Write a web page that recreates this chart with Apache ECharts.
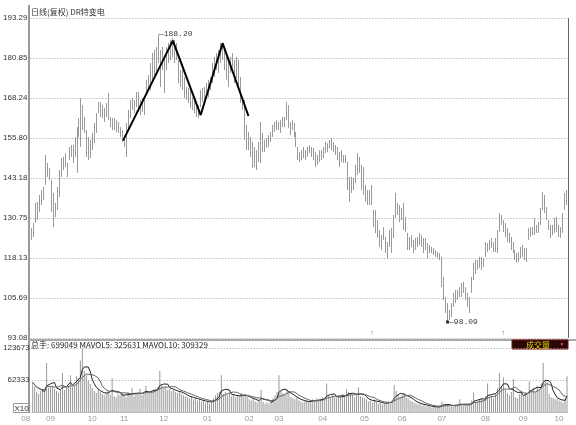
<!DOCTYPE html>
<html>
<head>
<meta charset="utf-8">
<script src="https://cdn.jsdelivr.net/npm/echarts@6/dist/echarts.min.js"></script>
<style>
  html, body { margin: 0; padding: 0; background: #fff; }
  #main { width: 576px; height: 425px; }
</style>
</head>
<body>
<div id="main"></div>
<script>
// daily high / low (price bars)
const dayHigh = [
  127.5,129.1,135.4,135.7,137.9,139.4,140.4,150.4,147.9,146.3,
  142.6,138.5,135.4,140.4,145.7,149.4,149.8,151.0,147.9,152.9,
  153.5,153.5,156.0,159.1,161.9,168.2,166.0,162.3,158.2,156.0,
  155.1,157.3,160.4,163.5,167.0,167.0,166.0,165.1,166.7,169.8,
  162.3,161.9,161.9,161.3,160.7,159.1,158.2,156.6,160.4,164.5,
  167.6,168.2,167.6,170.1,170.1,167.6,168.2,167.6,173.9,175.4,
  179.2,182.3,183.3,184.2,188.2,183.3,184.2,181.1,184.2,185.5,
  186.4,187.0,186.4,185.5,180.1,177.0,177.0,174.8,171.7,171.4,
  170.7,168.5,167.6,166.7,166.0,170.7,171.4,171.7,172.9,173.9,
  174.8,179.2,181.1,182.3,183.3,185.5,185.5,183.3,182.3,181.1,
  181.1,182.3,180.1,181.1,180.1,174.8,168.5,167.6,159.8,157.6,
  156.0,154.5,152.9,151.9,154.5,160.7,157.3,155.1,155.7,156.6,
  157.6,159.8,160.7,161.3,160.7,161.3,162.3,162.3,167.0,166.0,
  160.7,161.3,160.4,157.6,152.9,151.3,151.9,152.9,151.9,152.9,
  153.5,152.9,152.6,151.3,150.4,151.9,151.9,152.9,154.5,154.1,
  155.1,155.7,154.5,153.5,152.9,151.3,151.9,150.4,150.4,148.2,
  143.5,143.5,143.2,147.3,151.0,149.8,147.3,146.6,141.0,139.4,
  139.4,141.0,133.2,133.2,130.0,126.9,125.3,127.8,124.7,123.1,
  126.9,127.5,131.6,138.5,135.4,134.7,133.8,135.4,131.0,126.0,
  124.7,125.3,123.8,124.4,124.7,126.0,125.3,124.4,124.4,122.8,
  122.2,121.6,121.3,120.6,120.0,119.7,118.5,112.2,105.9,104.0,
  101.8,104.0,107.2,108.1,108.1,109.0,110.3,110.6,109.0,107.2,
  105.9,112.2,116.6,117.5,117.5,118.5,118.5,118.1,123.1,122.8,
  123.8,124.4,123.1,124.4,126.9,132.2,131.6,130.0,129.1,127.5,
  126.0,124.7,123.1,120.6,119.7,120.0,121.6,122.2,121.3,121.3,
  127.5,127.8,127.8,130.7,128.5,129.4,133.8,138.8,137.9,134.1,
  130.0,128.5,128.5,130.7,131.0,128.5,127.8,132.2,138.5,139.4
];
const dayLow = [
  123.8,124.7,129.1,130.0,132.6,134.7,136.3,141.0,143.5,142.6,
  132.6,127.8,130.9,133.2,137.2,143.5,145.7,146.6,143.5,148.8,
  149.8,147.9,149.8,144.8,156.0,152.9,158.2,157.3,149.8,148.8,
  149.4,151.9,154.1,157.3,163.5,162.3,161.9,160.7,162.3,161.3,
  159.1,158.2,158.2,157.6,157.3,156.0,154.5,152.9,149.8,158.2,
  161.9,164.5,163.5,165.4,163.9,162.9,163.9,162.9,169.8,170.7,
  170.7,173.9,174.5,176.1,179.2,171.7,177.0,169.8,177.0,179.2,
  180.1,181.1,179.2,180.1,172.9,171.7,170.7,168.2,167.6,166.7,
  165.1,164.5,163.5,162.3,161.9,165.4,167.0,167.6,168.2,168.5,
  170.7,172.9,174.8,177.0,176.1,179.2,180.1,177.0,173.9,171.7,
  176.1,177.9,172.9,174.5,171.7,166.7,164.5,155.1,151.9,151.9,
  149.8,146.3,146.6,145.7,148.2,147.9,151.3,151.3,152.6,152.9,
  154.5,156.0,157.6,158.2,158.2,157.3,159.1,159.1,161.3,158.8,
  156.6,158.2,156.0,152.9,148.8,148.2,148.8,149.4,148.8,149.8,
  151.0,149.8,148.8,146.6,147.3,148.2,148.8,149.4,151.0,151.3,
  152.6,151.9,151.3,150.4,148.8,146.6,148.2,147.9,147.9,139.4,
  135.7,138.5,139.4,141.6,144.1,144.8,139.4,137.9,135.7,134.7,
  134.7,134.7,127.8,125.9,124.4,121.6,120.6,123.8,119.7,118.1,
  121.6,119.7,124.4,130.7,131.6,129.4,130.0,126.9,126.3,120.6,
  120.6,121.6,119.7,120.6,121.6,122.2,121.6,119.7,120.6,118.1,
  119.7,119.7,119.1,118.5,118.1,117.5,109.0,105.0,100.9,98.09,
  98.7,99.6,102.8,104.0,105.0,105.9,105.9,107.2,105.0,102.8,
  100.9,107.2,111.2,113.1,114.4,115.0,114.4,115.3,118.5,120.0,
  120.6,121.3,120.0,120.0,119.7,126.3,128.5,126.3,124.7,123.1,
  122.8,120.6,119.7,117.5,116.6,116.9,118.1,118.5,117.5,116.9,
  123.8,124.7,125.3,125.3,126.0,126.0,128.5,133.2,132.2,130.0,
  126.9,124.4,125.3,126.0,126.3,124.7,124.4,126.0,133.2,134.7
];
// volume in thousands (axis units, x10 hands)
const volK = [
  58,50,40,36,42,45,40,95,48,50,52,46,42,38,44,
  76,44,48,52,72,50,54,70,66,100,123,80,72,62,55,
  48,42,38,45,40,36,34,38,42,35,66,32,30,36,34,38,
  34,30,40,36,48,32,35,38,46,34,36,52,40,38,42,
  44,46,50,80,52,48,50,44,46,42,44,40,38,42,36,
  34,32,30,28,32,26,28,24,26,22,24,20,22,18,20,
  28,34,38,40,72,36,40,34,38,32,36,30,34,32,38,
  30,36,32,26,24,28,22,20,24,44,22,18,20,18,22,
  28,34,40,72,42,38,36,46,40,30,28,26,30,24,22,
  20,22,24,20,22,26,24,28,22,26,30,28,56,32,30,
  34,30,28,32,30,36,32,45,40,38,34,30,36,49,32,
  30,28,26,22,24,20,26,22,18,20,16,18,20,22,18,
  24,54,42,36,30,34,38,30,28,24,22,20,18,16,18,
  14,16,12,14,12,10,12,11,13,12,22,18,16,14,12,
  14,12,16,14,26,15,13,14,16,18,24,39,20,22,26,
  28,24,32,56,30,34,28,36,48,76,50,68,44,38,34,
  40,64,30,28,36,40,32,38,34,60,44,48,40,52,46,
  56,95,62,58,36,30,28,26,26.5135,24,22,20,26.9106,69.9049
];

const priceTicks = ['93.08', '105.69', '118.13', '130.75', '143.18', '155.80', '168.24', '180.85', '193.29'];
const volTicks = ['X10', '62333', '123673'];
const monthAt = [0, 9, 30, 46, 66, 88, 109, 124, 146, 167, 186, 206, 228, 247, 265];
const monthLabel = ['08', '09', '10', '11', '12', '01', '02', '03', '04', '05', '06', '07', '08', '09', '10'];
// double top drawn on the chart
const patternAt = [46, 71, 85, 96, 109];
const patternVal = [154.9, 186.2, 162.9, 185.4, 162.6];
// ex-rights marks
const rightsAt = [171, 237];

const pMin = 93.08, pMax = 193.29, pStep = (pMax - pMin) / 8;
const vMin = 993, vMax = 123673, vStep = (vMax - vMin) / 2;

const movingAvg = (arr, n) => arr.map((_, i) => {
  const s = arr.slice(Math.max(0, i - n + 1), i + 1);
  return s.reduce((a, b) => a + b, 0) / s.length;
});

const cats = dayHigh.map((_, i) => String(i + 1));
const bars = dayHigh.map((h, i) => [dayLow[i], h, dayLow[i], h]);
const vol = volK.map(v => v * 1000);
const ma5 = movingAvg(vol, 5);
const ma10 = movingAvg(vol, 10);
const pattern = cats.map((_, i) => {
  const k = patternAt.indexOf(i);
  return k < 0 ? '-' : patternVal[k];
});
const hiVal = Math.max(...dayHigh), hiIdx = dayHigh.indexOf(hiVal);
const loVal = Math.min(...dayLow), loIdx = dayLow.indexOf(loVal);
const last = vol.length - 1;
const volTitle = '总手: ' + Math.round(vol[last] * 10) +
  ' MAVOL5: ' + Math.round(ma5[last] * 10) +
  ' MAVOL10: ' + Math.round(ma10[last] * 10);

const numFont = 'Liberation Sans';
const cjkFont = 'Noto Sans CJK SC';

const chart = echarts.init(document.getElementById('main'));
const option = {
  animation: false,
  backgroundColor: '#fff',
  grid: [
    { left: 29, right: 8, top: 18, height: 320 },
    { left: 29, right: 8, top: 348, height: 64.5 }
  ],
  xAxis: [
    {
      type: 'category', gridIndex: 0, data: cats, boundaryGap: true,
      axisLine: { show: false }, axisTick: { show: false },
      axisLabel: { show: false }, splitLine: { show: false }
    },
    {
      type: 'category', gridIndex: 1, data: cats, boundaryGap: true,
      axisLine: { lineStyle: { color: '#c8c8c8' } }, axisTick: { show: false },
      axisLabel: {
        interval: (i) => monthAt.includes(i),
        formatter: (v, i) => {
          const k = monthAt.indexOf(i);
          return i === 0 ? '{l|' + monthLabel[k] + '}' : monthLabel[k];
        },
        color: '#999', fontSize: 8, fontFamily: numFont, margin: 2,
        rich: { l: { color: '#999', fontSize: 8, fontFamily: numFont, padding: [0, 14, 0, 0] } }
      }
    }
  ],
  yAxis: [
    {
      type: 'value', gridIndex: 0, min: pMin, max: pMax, interval: pStep,
      axisLine: { show: false }, axisTick: { show: false },
      axisLabel: {
        formatter: (v) => priceTicks[Math.round((v - pMin) / pStep)],
        color: '#333', fontSize: 8, fontFamily: numFont, margin: 3,
        showMinLabel: true, showMaxLabel: true
      },
      splitLine: { lineStyle: { type: [1, 2], color: '#a0a0a0' } }
    },
    {
      type: 'value', gridIndex: 1, min: vMin, max: vMax, interval: vStep,
      axisLine: { show: false }, axisTick: { show: false },
      axisLabel: {
        formatter: (v) => {
          const k = Math.round((v - vMin) / vStep);
          return k === 0 ? '{b|' + volTicks[0] + '}' : volTicks[k];
        },
        color: '#333', fontSize: 8, fontFamily: numFont, margin: 2,
        showMinLabel: true, showMaxLabel: true,
        verticalAlignMinLabel: 'bottom',
        rich: { b: { color: '#333', fontSize: 8, fontFamily: numFont, borderColor: '#999', borderWidth: 1, padding: [1, 1, 0, 1] } }
      },
      splitLine: { lineStyle: { type: [1, 2], color: '#a0a0a0' } }
    }
  ],
  series: [
    {
      type: 'candlestick', xAxisIndex: 0, yAxisIndex: 0, data: bars,
      barWidth: 1, silent: true,
      itemStyle: { color: '#9a9a9a', color0: '#9a9a9a', borderColor: '#9a9a9a', borderColor0: '#9a9a9a', borderWidth: 1 }
    },
    {
      type: 'line', xAxisIndex: 0, yAxisIndex: 0, data: pattern, connectNulls: true,
      symbol: 'none', silent: true, z: 5,
      lineStyle: { color: '#000', width: 2 }
    },
    {
      type: 'scatter', xAxisIndex: 0, yAxisIndex: 0, data: [[hiIdx, hiVal]],
      symbolSize: 0, silent: true, z: 6,
      label: {
        show: true, position: 'right', distance: 0,
        formatter: () => '\u2014' + hiVal.toFixed(2),
        color: '#000', fontSize: 8, fontFamily: 'Liberation Mono'
      }
    },
    {
      type: 'scatter', xAxisIndex: 0, yAxisIndex: 0, data: [[loIdx, loVal]],
      symbol: 'rect', symbolSize: 3, itemStyle: { color: '#000' }, silent: true, z: 6,
      label: {
        show: true, position: 'right', distance: 0,
        formatter: () => '\u2014' + loVal.toFixed(2),
        color: '#000', fontSize: 8, fontFamily: 'Liberation Mono'
      }
    },
    {
      type: 'scatter', xAxisIndex: 0, yAxisIndex: 0, data: rightsAt.map(i => [i, pMin]),
      symbolSize: 0, silent: true,
      label: { show: true, position: 'top', distance: 1, formatter: '\u2191', color: '#333', fontSize: 7, fontFamily: numFont }
    },
    {
      type: 'bar', xAxisIndex: 1, yAxisIndex: 1, data: vol, barWidth: 1, silent: true,
      itemStyle: { color: '#999' }
    },
    {
      type: 'line', xAxisIndex: 1, yAxisIndex: 1, data: ma5, symbol: 'none', silent: true,
      lineStyle: { color: '#222', width: 1 }
    },
    {
      type: 'line', xAxisIndex: 1, yAxisIndex: 1, data: ma10, symbol: 'none', silent: true,
      lineStyle: { color: '#666', width: 1 }
    }
  ],
  graphic: [
    { type: 'rect', shape: { x: 28, y: 5, width: 2, height: 408 }, style: { fill: '#9a9a9a' }, silent: true },
    { type: 'rect', shape: { x: 28, y: 339, width: 548, height: 2 }, style: { fill: '#aaa' }, silent: true },
    { type: 'line', shape: { x1: 568.5, y1: 18, x2: 568.5, y2: 338 }, style: { stroke: '#666', lineWidth: 1 }, silent: true },
    {
      type: 'text', x: 31, y: 12, silent: true,
      style: { text: '日线(复权) DR特变电', fill: '#333', font: '8px "' + cjkFont + '"', verticalAlign: 'middle' }
    },
    {
      type: 'text', x: 31, y: 345, silent: true,
      style: { text: volTitle, fill: '#222', font: '8px "' + cjkFont + '"', verticalAlign: 'middle' }
    },
    {
      type: 'group', silent: true,
      children: [
        { type: 'rect', shape: { x: 512, y: 340, width: 56, height: 9 }, style: { fill: '#2a0606', stroke: '#7a1010', lineWidth: 1 } },
        { type: 'text', x: 538, y: 344.5, style: { text: '成交量', fill: '#d8d800', font: '8px "' + cjkFont + '"', align: 'center', verticalAlign: 'middle' } },
        { type: 'text', x: 562, y: 344.5, style: { text: '\u25BC', fill: '#e05080', font: '5px "' + numFont + '"', align: 'center', verticalAlign: 'middle' } }
      ]
    }
  ]
};
chart.setOption(option);
</script>
</body>
</html>
